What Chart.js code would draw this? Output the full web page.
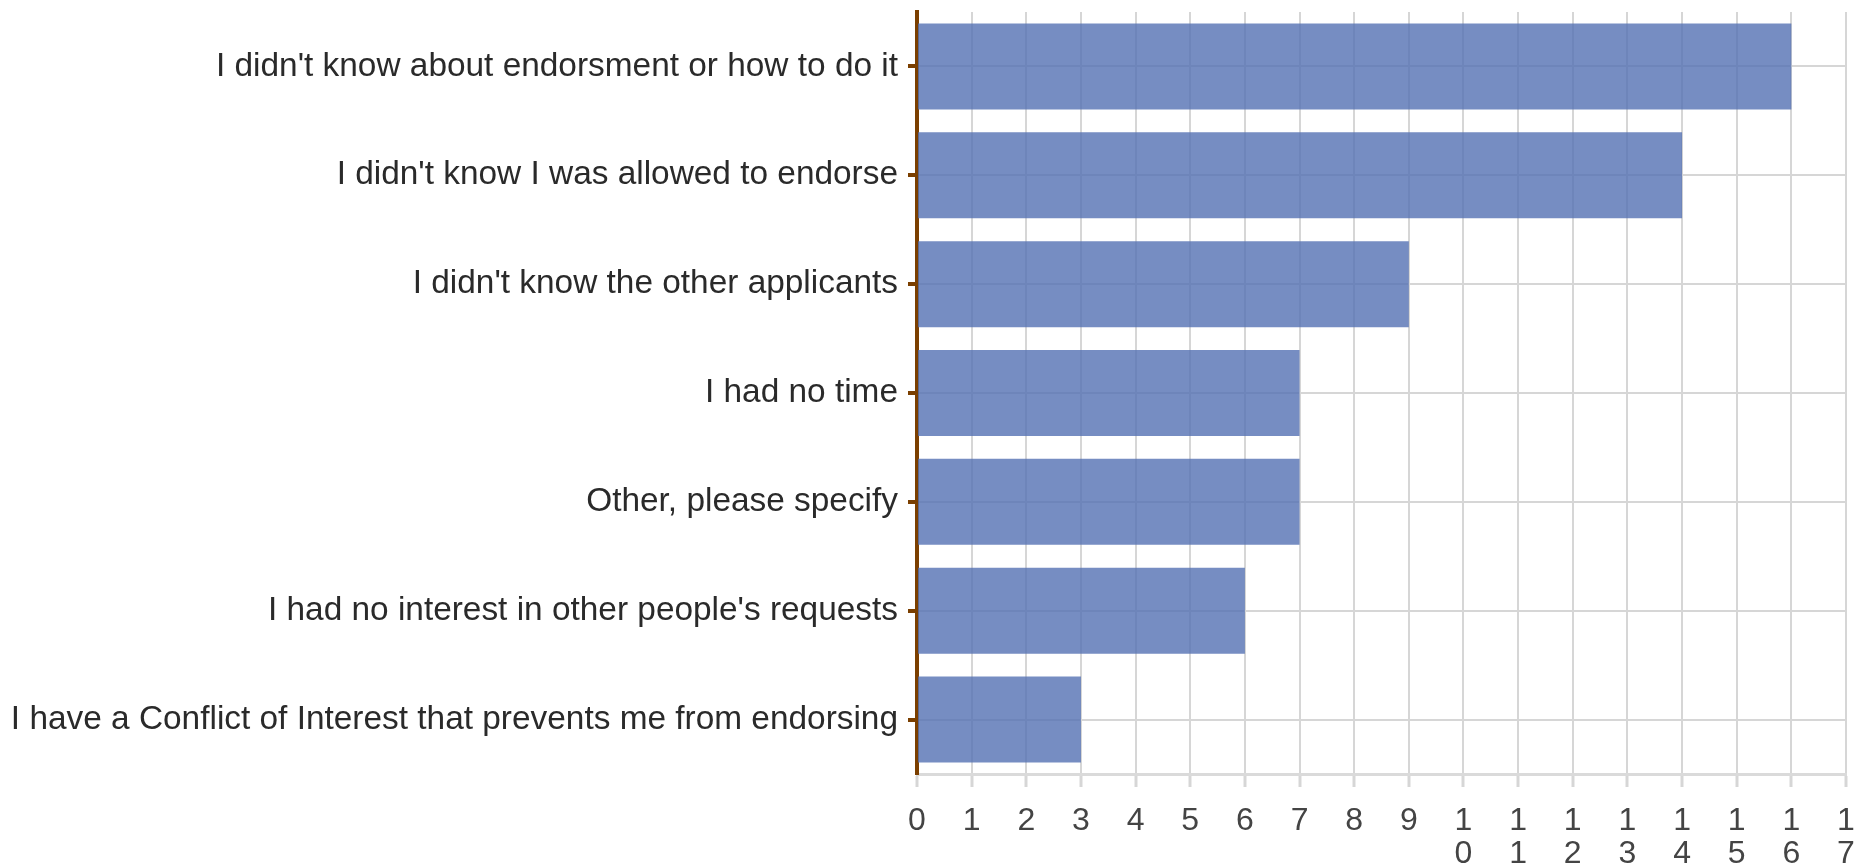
<!DOCTYPE html>
<html>
<head>
<meta charset="utf-8">
<script src="https://cdn.jsdelivr.net/npm/chart.js@4/dist/chart.umd.min.js"></script>
<style>
  html, body { margin: 0; padding: 0; background: #fff; }
  #wrap { width: 1859px; height: 865px; }
</style>
</head>
<body>
<div id="wrap"><canvas id="c" width="1859" height="865"></canvas></div>
<script>
const categories = [
  "I didn't know about endorsment or how to do it",
  "I didn't know I was allowed to endorse",
  "I didn't know the other applicants",
  "I had no time",
  "Other, please specify",
  "I had no interest in other people's requests",
  "I have a Conflict of Interest that prevents me from endorsing"
];
const counts = [16, 14, 9, 7, 7, 6, 3];
const xMin = 0;
const xMax = 17;

const FONT = "'Liberation Sans', Arial, Helvetica, sans-serif";

new Chart(document.getElementById('c'), {
  type: 'bar',
  data: {
    labels: categories,
    datasets: [{
      data: counts,
      backgroundColor: 'rgba(84,113,179,0.8)',
      borderWidth: 0,
      categoryPercentage: 1.0,
      barPercentage: 0.79
    }]
  },
  options: {
    indexAxis: 'y',
    responsive: false,
    animation: false,
    devicePixelRatio: 1,
    layout: { padding: { top: 12, right: 13, left: 0, bottom: 0 } },
    plugins: { legend: { display: false }, tooltip: { enabled: false } },
    scales: {
      x: {
        min: xMin,
        max: xMax,
        ticks: {
          stepSize: 1,
          color: '#444',
          font: { family: FONT, size: 32, lineHeight: 1.05 },
          padding: 17,
          maxRotation: 0,
          autoSkip: false,
          callback: (v) => (v >= 10 ? String(v).split('') : String(v))
        },
        grid: {
          color: '#d6d6d6',
          lineWidth: 2,
          tickLength: 13,
          tickColor: '#d6d6d6',
          tickWidth: 3
        },
        border: { color: '#dadada', width: 3 },
        afterFit: (s) => { s.height = 865 - 774; s.paddingLeft = 0; s.paddingRight = 0; }
      },
      y: {
        ticks: {
          color: '#2a2a2a',
          font: { family: FONT, size: 33.4 },
          padding: 10,
          autoSkip: false
        },
        grid: {
          offset: false,
          color: '#d6d6d6',
          lineWidth: 2,
          tickLength: 9,
          tickColor: '#7b3f00',
          tickWidth: 4
        },
        border: { color: '#7b3f00', width: 4 },
        afterFit: (s) => { s.width = 917; s.paddingTop = 0; s.paddingBottom = 0; }
      }
    }
  }
});
</script>
</body>
</html>
